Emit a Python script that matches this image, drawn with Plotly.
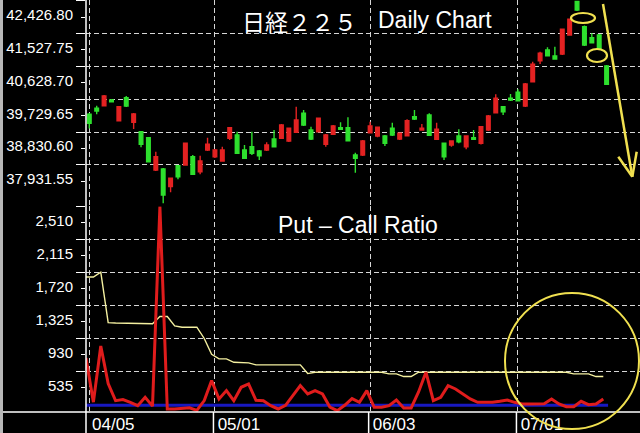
import plotly.graph_objects as go

# ---------------- data ----------------
dates = ["04/05", "04/08", "04/09", "04/10", "04/11", "04/12", "04/15", "04/16", "04/17", "04/18",
         "04/19", "04/22", "04/23", "04/24", "04/25", "04/26", "04/30", "05/01", "05/02", "05/07",
         "05/08", "05/09", "05/10", "05/13", "05/14", "05/15", "05/16", "05/17", "05/20", "05/21",
         "05/22", "05/23", "05/24", "05/27", "05/28", "05/29", "05/30", "05/31", "06/03", "06/04",
         "06/05", "06/06", "06/07", "06/10", "06/11", "06/12", "06/13", "06/14", "06/17", "06/18",
         "06/19", "06/20", "06/21", "06/24", "06/25", "06/26", "06/27", "06/28", "07/01", "07/02",
         "07/03", "07/04", "07/05", "07/08", "07/09", "07/10", "07/11", "07/12", "07/16", "07/17",
         "07/18"]

opens = [39321, 39486, 39557, 39713, 39146, 39776, 39102, 38844, 38680, 37794,
         37822, 37337, 37912, 37931, 38159, 37748, 38342, 38159, 38041, 38663,
         38754, 38342, 38433, 38315, 38342, 38644, 38663, 38589, 38828, 39348,
         38891, 38844, 38499, 38773, 38954, 38954, 38205, 38205, 38817, 38726,
         38726, 38937, 38644, 38734, 39255, 38891, 39302, 38636, 38526, 38480,
         38726, 38433, 38680, 38526, 38891, 39365, 39529, 39760, 39924, 39549,
         40215, 40790, 41084, 40919, 40974, 41495, 42413, 41722, 41421, 41495,
         40645]
highs = [39357, 39557, 39850, 39740, 39549, 39823, 39357, 38863, 38699, 38296,
         37849, 37589, 37931, 38548, 38205, 38186, 38680, 38370, 38433, 38973,
         38844, 38480, 38844, 38342, 38554, 38891, 39055, 38959, 39529, 39439,
         38981, 39233, 38781, 39028, 39102, 39239, 38268, 38617, 39118, 38987,
         38754, 39091, 38822, 39184, 39439, 39055, 39348, 39091, 38548, 38603,
         38910, 38740, 38891, 39000, 39302, 39869, 39549, 39877, 40006, 40179,
         40763, 41037, 41157, 41174, 41673, 41947, 42426.8, 41755, 41541, 41522,
         40672]
lows = [38932, 39321, 39535, 39644, 39124, 39521, 38918, 38417, 38000, 37767,
        36882, 37183, 37539, 37909, 37657, 37676, 38315, 38123, 38027, 38617,
        38233, 38096, 38205, 38068, 38315, 38411, 38644, 38562, 38808, 39000,
        38617, 38822, 38433, 38754, 38891, 38575, 37720, 38178, 38795, 38691,
        38452, 38726, 38617, 38713, 39165, 38877, 38726, 38617, 38068, 38433,
        38526, 38362, 38617, 38493, 38863, 39343, 39302, 39686, 39672, 39521,
        40193, 40700, 40905, 40823, 40946, 41481, 42153, 41193, 41262, 41084,
        40124]
closes = [39074, 39411, 39823, 39666, 39529, 39549, 39329, 38499, 38022, 38159,
          37109, 37567, 37611, 38526, 37676, 38041, 38499, 38342, 38342, 38954,
          38252, 38115, 38252, 38186, 38480, 38433, 39028, 38937, 39165, 39028,
          38644, 39211, 38754, 39000, 38910, 38597, 38115, 38589, 39000, 38965,
          38526, 38754, 38800, 39146, 39192, 38937, 38745, 38910, 38159, 38589,
          38570, 38726, 38636, 38981, 39274, 39760, 39392, 39713, 39694, 40152,
          40692, 40993, 40927, 40837, 41651, 41925, 42180, 41221, 41284, 41103,
          40143]

pcr = [695, 168, 840, 390, 186, 198, 166, 126, 226, 120,
       2510, 86, 86, 90, 100, 70, 186, 426, 206, 306,
       186, 346, 386, 190, 186, 126, 86, 130, 250, 366,
       266, 306, 266, 110, 66, 130, 210, 166, 306, 106,
       106, 126, 194, 98, 98, 290, 526, 186, 226, 366,
       326, 266, 206, 166, 166, 166, 178, 194, 166, 146,
       146, 146, 150, 206, 146, 114, 114, 178, 138, 146,
       206]
pcr_avg = [1666, 1666, 1724, 1120, 1115, 1115, 1115, 1106, 1106, 1106,
           1193, 1193, 1080, 1065, 1065, 1065, 930, 740, 686, 686,
           645, 638, 638, 614, 614, 614, 614, 614, 614, 614,
           510, 526, 526, 526, 526, 526, 526, 526, 526, 526,
           526, 506, 506, 474, 474, 526, 526, 526, 526, 526,
           526, 526, 526, 526, 526, 526, 526, 526, 526, 526,
           526, 526, 526, 526, 526, 526, 506, 506, 506, 474,
           474]
base_level = 130

price_ticks = [42426.80, 41527.75, 40628.70, 39729.65, 38830.60, 37931.55]
pcr_ticks = [2510, 2115, 1720, 1325, 930, 535]
date_labels = ["04/05", "05/01", "06/03", "07/01"]

# ---------------- layout helpers ----------------
W, H = 640, 433
ML, MB = 86, 21
PW, PH = W - ML, H - MB


def px(xp, yp):
    return (xp - ML) / PW, (PH - yp) / PH


FONT = "Liberation Sans, Arial, sans-serif"
GRID = "#d6d6d6"
YEL = "#f0e050"
SPLIT = (PH - 206.3) / PH

idx = list(range(len(dates)))
lbl_idx = [dates.index(d) for d in date_labels]
X_RANGE = [-0.447, 74.52]
shift = -X_RANGE[0]  # lower panel points drawn half a slot earlier, as in the source
pcr_x = [i - shift for i in idx]

fig = go.Figure()
fig.add_trace(go.Candlestick(
    x=idx, open=opens, high=highs, low=lows, close=closes,
    increasing=dict(line=dict(color="#e42222", width=1.4), fillcolor="#e42222"),
    decreasing=dict(line=dict(color="#2ee02e", width=1.4), fillcolor="#2ee02e"),
    whiskerwidth=0, xaxis="x", yaxis="y", hoverinfo="skip", showlegend=False))

fig.add_trace(go.Scatter(x=pcr_x, y=pcr_avg, mode="lines", line=dict(color="#f4f0a0", width=1.4),
                         xaxis="x2", yaxis="y2", showlegend=False, hoverinfo="skip"))
fig.add_trace(go.Scatter(x=[pcr_x[0], idx[-1] + 0.2], y=[base_level, base_level], mode="lines",
                         line=dict(color="#1818c0", width=3), xaxis="x2", yaxis="y2",
                         showlegend=False, hoverinfo="skip"))
fig.add_trace(go.Scatter(x=pcr_x, y=pcr, mode="lines", line=dict(color="#e01c1c", width=3),
                         xaxis="x2", yaxis="y2", showlegend=False, hoverinfo="skip"))

common_x = dict(range=X_RANGE, tickmode="array", tickvals=lbl_idx, showgrid=True, gridcolor=GRID,
                griddash="5px,3px", gridwidth=1.2, zeroline=False, showline=False, ticks="",
                automargin=False)
top_step = price_ticks[0] - price_ticks[1]
bot_step = pcr_ticks[0] - pcr_ticks[1]
common_y = dict(tickmode="array", showgrid=True, gridcolor=GRID, griddash="5px,3px", gridwidth=1.2,
                zeroline=False, showline=False, ticks="outside", ticklen=9, tickcolor="white",
                tickwidth=1.3, ticklabelshift=14, automargin=False,
                tickfont=dict(family=FONT, size=15, color="white"))

fig.update_layout(
    width=W, height=H, margin=dict(l=ML, r=0, t=0, b=MB, autoexpand=False),
    paper_bgcolor="black", plot_bgcolor="black", showlegend=False,
    xaxis=dict(domain=[0, 1], anchor="y", showticklabels=False, rangeslider=dict(visible=False),
               **common_x),
    xaxis2=dict(domain=[0, 1], anchor="y2", matches="x", ticktext=date_labels, ticklabelshift=24,
                ticklabelstandoff=0, tickfont=dict(family=FONT, size=17, color="white"), **common_x),
    yaxis=dict(domain=[SPLIT, 1], anchor="x", range=[36799, 42454], tickvals=price_ticks,
               ticktext=[f"{v:,.2f}" for v in price_ticks],
               minor=dict(tickmode="array", tickvals=[v - 0.49 * top_step for v in price_ticks],
                          ticks="outside", ticklen=4, tickcolor="white", showgrid=False),
               **common_y),
    yaxis2=dict(domain=[0, SPLIT], anchor="x2", range=[50, 2512], tickvals=pcr_ticks,
                ticktext=[f"{v:,}" for v in pcr_ticks],
                minor=dict(tickmode="array", tickvals=[v - 0.49 * bot_step for v in pcr_ticks],
                           ticks="outside", ticklen=4, tickcolor="white", showgrid=False),
                **common_y),
)

shapes = []
# window border at far left
x0, y0 = px(0, H)
x1, y1 = px(3, 0)
shapes.append(dict(type="rect", xref="paper", yref="paper", x0=x0, x1=x1, y0=y0, y1=y1,
                   fillcolor="#b8b8b8", line=dict(width=0)))
# left axis line and bottom line
shapes.append(dict(type="line", xref="paper", yref="paper", x0=0, x1=0, y0=px(0, H)[1], y1=1,
                   line=dict(color="white", width=1.5)))
shapes.append(dict(type="line", xref="paper", yref="paper", x0=px(3, 0)[0], x1=1, y0=0, y1=0,
                   line=dict(color="white", width=1.5)))
# date separators in the label strip
for i in lbl_idx[1:]:
    shapes.append(dict(type="line", xref="x2", yref="paper", x0=i - 0.2, x1=i - 0.2, y0=0,
                       y1=px(0, H)[1], line=dict(color="white", width=1.5)))


# yellow marks
def ell(cx, cy, rx, ry, w=2.2):
    a, b = px(cx - rx, cy + ry)
    c, d = px(cx + rx, cy - ry)
    return dict(type="circle", xref="paper", yref="paper", x0=a, y0=b, x1=c, y1=d,
                line=dict(color=YEL, width=w))


shapes.append(ell(583, 18, 12, 5))
shapes.append(ell(597, 55.5, 10, 6.5))
shapes.append(ell(572, 361, 67, 68, 2))


def seg(xa, ya, xb, yb):
    a, b = px(xa, ya)
    c, d = px(xb, yb)
    return dict(type="line", xref="paper", yref="paper", x0=a, y0=b, x1=c, y1=d,
                line=dict(color=YEL, width=2.5))


shapes.append(seg(603, 4, 632.3, 176.7))
shapes.append(seg(618.3, 156.7, 632.3, 176.7))
shapes.append(seg(636.7, 151.7, 632.3, 176.7))
fig.update_layout(shapes=shapes)

ann = []
ax, ay = px(240, 21)
ann.append(dict(text="日経２２５", x=ax, y=ay, xref="paper", yref="paper", xanchor="left",
                yanchor="middle", showarrow=False,
                font=dict(family="Noto Sans CJK JP", size=23, color="white")))
ax, ay = px(376, 20)
ann.append(dict(text="Daily Chart", x=ax, y=ay, xref="paper", yref="paper", xanchor="left",
                yanchor="middle", showarrow=False, font=dict(family=FONT, size=23, color="white")))
ax, ay = px(358, 225)
ann.append(dict(text="Put – Call Ratio", x=ax, y=ay, xref="paper", yref="paper", xanchor="center",
                yanchor="middle", showarrow=False, font=dict(family=FONT, size=23, color="white")))
fig.update_layout(annotations=ann)

fig.write_html("out.html", config={"displayModeBar": False},
               post_script="document.body.style.margin='0px';")
